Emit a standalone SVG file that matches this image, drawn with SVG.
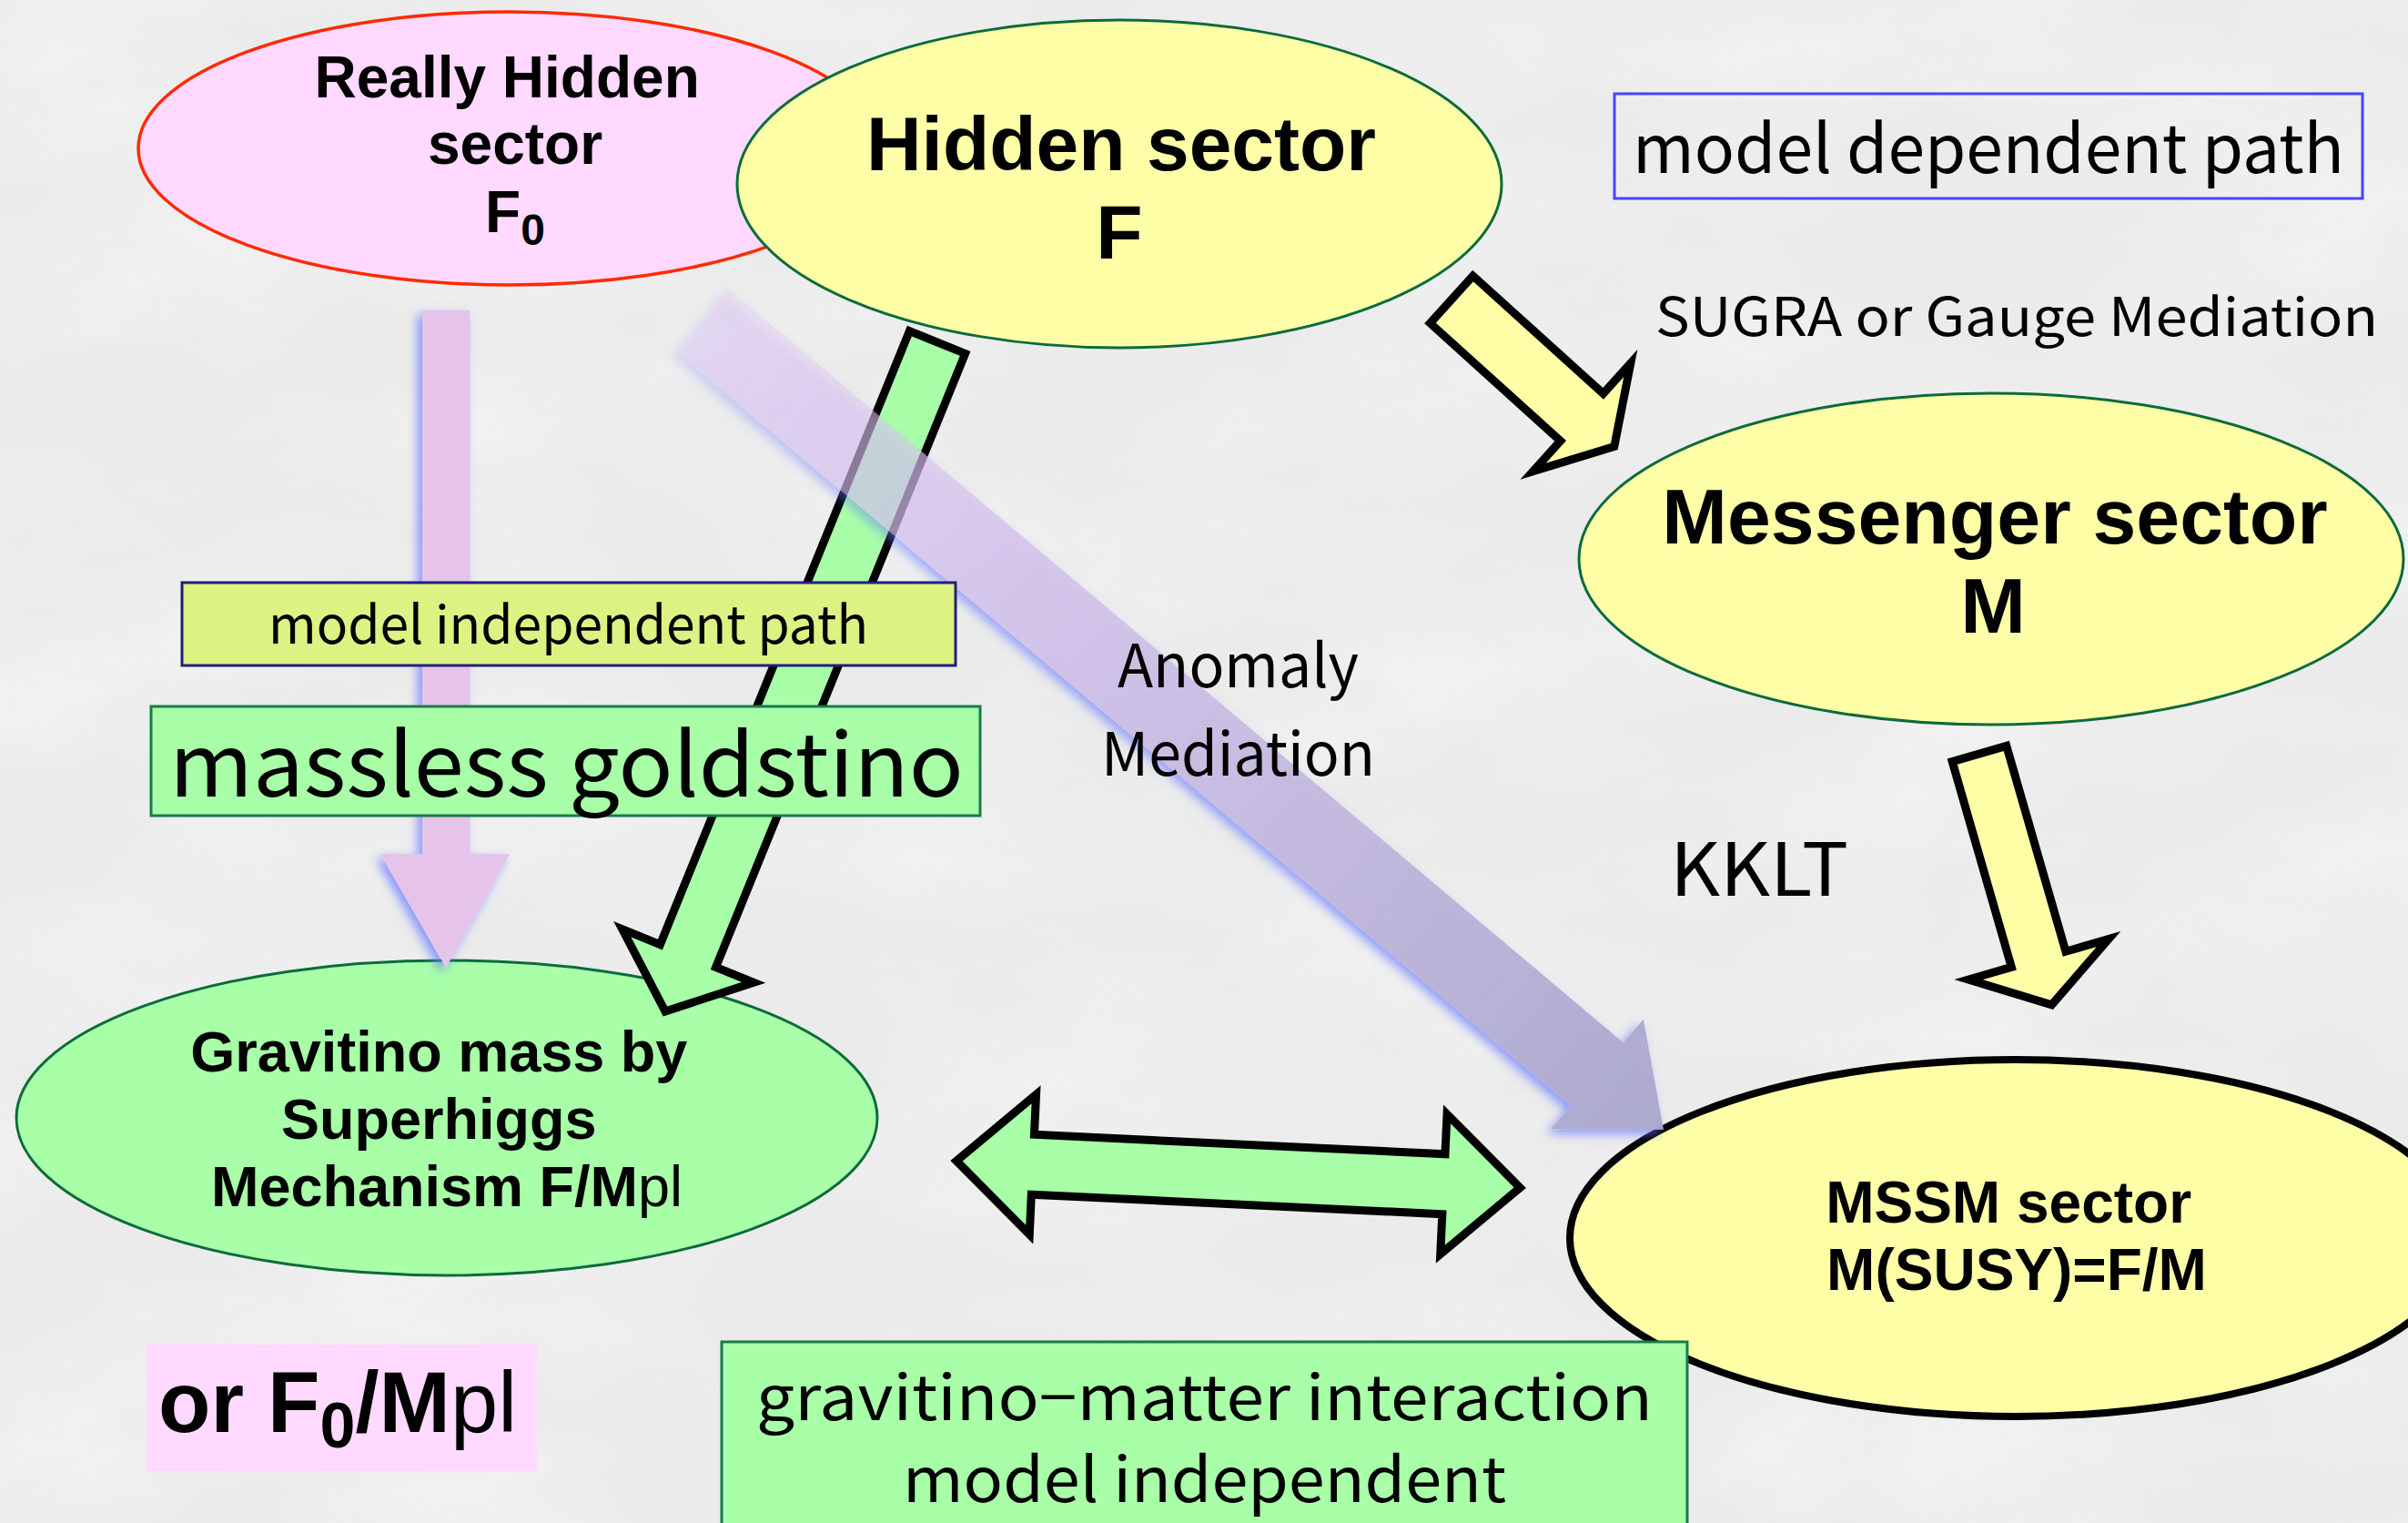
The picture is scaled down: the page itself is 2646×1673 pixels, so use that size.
<svg xmlns="http://www.w3.org/2000/svg" width="2646" height="1673" viewBox="0 0 2646 1673">
  <defs>
    <style>
      .bold { font-family: "Liberation Sans", Arial, sans-serif; font-weight: bold; fill: #000; }
      .goth { font-family: "Noto Sans CJK JP", "Noto Sans", sans-serif; fill: #000; }
      .sector { stroke: #0b6b3b; stroke-width: 3; }
      .yellow { fill: #ffffa8; }
      .green { fill: #a8ffa8; }
      .pink { fill: #ffd9ff; }
      .block { stroke: #000; stroke-width: 9; stroke-linejoin: miter; stroke-miterlimit: 10; }
    </style>
    <!-- soft blue halo on the translucent arrows -->
    <filter id="halo" x="-20%" y="-20%" width="140%" height="140%">
      <feGaussianBlur in="SourceAlpha" stdDeviation="6" result="blur"/>
      <feOffset in="blur" dx="-5" dy="5" result="shift"/>
      <feFlood flood-color="#6677ff" flood-opacity="0.75"/>
      <feComposite in2="shift" operator="in" result="tint"/>
      <feComposite in="tint" in2="SourceAlpha" operator="out" result="edge"/>
      <feMerge>
        <feMergeNode in="edge"/>
        <feMergeNode in="SourceGraphic"/>
      </feMerge>
    </filter>
    <filter id="paper" x="0" y="0" width="100%" height="100%">
      <feTurbulence type="fractalNoise" baseFrequency="0.003 0.006" numOctaves="4" seed="11"/>
      <feColorMatrix type="matrix" values="0 0 0 0 1  0 0 0 0 1  0 0 0 0 1  1.3 0 0 0 -0.5"/>
    </filter>
    <linearGradient id="anomalyFill" gradientUnits="userSpaceOnUse" x1="772" y1="352" x2="1828" y2="1241">
      <stop offset="0" stop-color="#e6c6ef" stop-opacity="0.3"/>
      <stop offset="0.3" stop-color="#d2bfea" stop-opacity="0.8"/>
      <stop offset="1" stop-color="#a8a6cc" stop-opacity="0.95"/>
    </linearGradient>
  </defs>

  <!-- paper background -->
  <rect x="0" y="0" width="2646" height="1673" fill="#ebebeb"/>
  <rect x="0" y="0" width="2646" height="1673" filter="url(#paper)" opacity="0.55"/>

  <!-- sectors -->
  <g id="really-hidden-sector">
    <ellipse cx="560" cy="163" rx="408" ry="150" class="pink" stroke="#ff2a00" stroke-width="3.5"/>
    <text class="bold" font-size="64" text-anchor="middle">
      <tspan x="566" y="107">Really Hidden</tspan>
      <tspan x="566" y="180">sector</tspan>
    </text>
    <text class="bold" font-size="64" x="566" y="255" text-anchor="middle">F<tspan font-size="48" dy="14">0</tspan></text>
  </g>

  <g id="hidden-sector">
    <ellipse cx="1230" cy="202" rx="420" ry="180" class="yellow sector"/>
    <text class="bold" font-size="84" x="1232" y="187" text-anchor="middle">Hidden sector</text>
    <text class="bold" font-size="84" x="1230" y="284" text-anchor="middle">F</text>
  </g>

  <g id="messenger-sector">
    <ellipse cx="2188" cy="614" rx="453" ry="182" class="yellow sector"/>
    <text class="bold" font-size="86" x="2192" y="597" text-anchor="middle">Messenger sector</text>
    <text class="bold" font-size="86" x="2190" y="695" text-anchor="middle">M</text>
  </g>

  <g id="gravitino-mass">
    <ellipse cx="491" cy="1228" rx="473" ry="173" class="green sector"/>
    <text class="bold" font-size="63" text-anchor="middle">
      <tspan x="491" y="1177">Gravitino mass by</tspan>
      <tspan x="491" y="1251">Superhiggs</tspan>
      <tspan x="491" y="1325">Mechanism F/M<tspan font-weight="normal">pl</tspan></tspan>
    </text>
  </g>

  <g id="mssm-sector">
    <ellipse cx="2215" cy="1360" rx="490" ry="196" class="yellow" stroke="#000" stroke-width="8"/>
    <text class="bold" font-size="64" text-anchor="middle">
      <tspan x="2216" y="1343">MSSM sector</tspan>
      <tspan x="2216" y="1417">M(SUSY)=F/M</tspan>
    </text>
  </g>

  <!-- arrows between sectors -->
  <g id="connectors">
    <!-- Really Hidden -> Gravitino (model independent path) -->
    <polygon points="464,341 516,341 516,938 560,938 490,1063 418,938 464,938" fill="#e6c3e8" filter="url(#halo)"/>
    <!-- Hidden -> Gravitino -->
    <polygon class="green block" points="999.4,363.6 1060.6,388.4 786.6,1062.4 828.2,1079.3 731,1111 683.8,1020.7 725.4,1037.6"/>
    <!-- Hidden -> Messenger -->
    <polygon class="yellow block" points="1618.5,303 1761.7,432.3 1791.8,399 1773.8,490.5 1684.6,517.7 1714.7,484.3 1571.5,355"/>
    <!-- Messenger -> MSSM -->
    <polygon class="yellow block" points="2145.2,836.6 2204.8,819.4 2269.9,1045.2 2317,1031.6 2254.5,1103.8 2163.2,1076 2210.3,1062.4"/>
    <!-- Gravitino <-> MSSM -->
    <polygon class="green block" transform="translate(1045 1275) rotate(2.72)" points="6,0 90,-77 90,-33 542,-33 542,-77 626,0 542,77 542,33 90,33 90,77"/>
    <!-- Hidden -> MSSM (anomaly mediation) -->
    <polygon points="743.1,386.5 800.9,317.5 1783.9,1145.5 1805.8,1119.5 1828,1241 1704.2,1240.5 1726.1,1214.5" fill="url(#anomalyFill)" filter="url(#halo)"/>
  </g>

  <!-- boxed captions -->
  <g id="model-independent-path">
    <rect x="200" y="640" width="850" height="91" fill="#dcf282" stroke="#20207a" stroke-width="3"/>
    <text class="goth" font-size="58" x="295" y="707" textLength="659" lengthAdjust="spacingAndGlyphs">model independent path</text>
  </g>

  <g id="massless-goldstino">
    <rect x="166" y="776" width="911" height="120" class="green" stroke="#1a7a4a" stroke-width="3"/>
    <text class="goth" font-size="96" x="186" y="875" textLength="873" lengthAdjust="spacingAndGlyphs">massless goldstino</text>
  </g>

  <g id="model-dependent-path">
    <rect x="1774" y="103" width="822" height="115" fill="none" stroke="#4444ff" stroke-width="3"/>
    <text class="goth" font-size="74" x="1794" y="190" textLength="782" lengthAdjust="spacingAndGlyphs">model dependent path</text>
  </g>

  <g id="gravitino-matter-interaction">
    <rect x="793" y="1474" width="1061" height="230" class="green" stroke="#1a7a4a" stroke-width="3"/>
    <text class="goth" font-size="68" x="831" y="1560" textLength="985" lengthAdjust="spacingAndGlyphs">gravitino−matter interaction</text>
    <text class="goth" font-size="68" x="992" y="1650" textLength="663" lengthAdjust="spacingAndGlyphs">model independent</text>
  </g>

  <g id="or-f0-mpl">
    <rect x="161" y="1477" width="429" height="139" class="pink"/>
    <text class="bold" font-size="94" x="174" y="1573">or F<tspan font-size="70" dy="17">0</tspan><tspan dy="-17">/M</tspan><tspan font-weight="normal">pl</tspan></text>
  </g>

  <!-- path labels -->
  <g id="labels">
    <text class="goth" font-size="58" x="1819" y="369" textLength="794" lengthAdjust="spacingAndGlyphs">SUGRA or Gauge Mediation</text>
    <text class="goth" font-size="66" x="1228" y="755" textLength="265" lengthAdjust="spacingAndGlyphs">Anomaly</text>
    <text class="goth" font-size="66" x="1210" y="852" textLength="301" lengthAdjust="spacingAndGlyphs">Mediation</text>
    <text class="goth" font-size="80" x="1835" y="984" textLength="196" lengthAdjust="spacingAndGlyphs">KKLT</text>
  </g>
</svg>
